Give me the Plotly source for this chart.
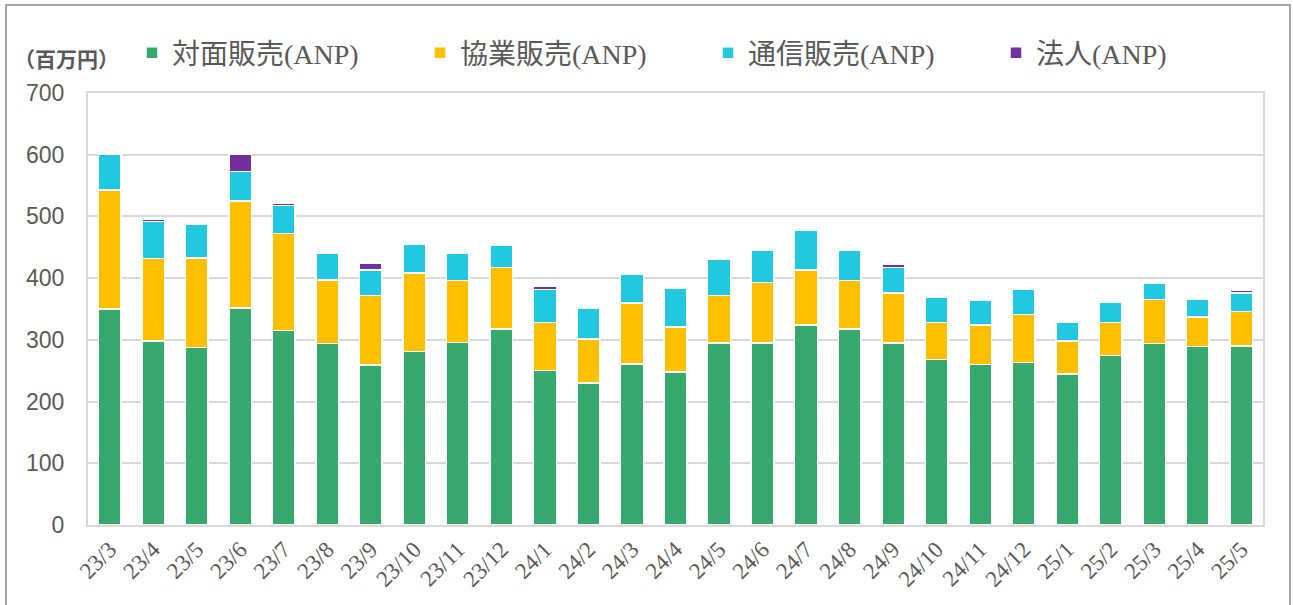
import plotly.graph_objects as go

months = ["23/3","23/4","23/5","23/6","23/7","23/8","23/9","23/10","23/11","23/12",
          "24/1","24/2","24/3","24/4","24/5","24/6","24/7","24/8","24/9","24/10",
          "24/11","24/12","25/1","25/2","25/3","25/4","25/5"]
face_to_face = [350,298,288,352,315,294,259,281,296,318,250,230,261,248,295,295,324,318,295,268,260,263,245,275,294,289,290]
agency = [193,134,145,173,157,103,113,127,100,99,78,71,99,73,77,98,89,78,81,60,64,78,53,53,71,48,56]
direct = [58,60,55,48,46,44,41,47,44,37,54,50,46,63,59,53,64,49,41,41,40,41,30,33,26,29,30]
corporate = [0,4,0,27,4,1,11,0,0,0,5,0,0,0,0,1,0,0,5,0,0,0,0,0,0,0,5]

series_names = ["対面販売(ANP)", "協業販売(ANP)", "通信販売(ANP)", "法人(ANP)"]
series_values = [face_to_face, agency, direct, corporate]
colors = ["#38A96E", "#FFC000", "#22C8E0", "#7030A0"]

fig = go.Figure()
for name, vals, col in zip(series_names, series_values, colors):
    fig.add_trace(go.Bar(
        x=months, y=vals, name=name,
        marker=dict(color=col, line=dict(color="white", width=1.5)),
    ))

# page body margin is removed in post_script, so screen px == figure px
W, H = 1293, 605
plot_l, plot_r, plot_t, plot_b = 88, 1263, 93, 525
ml = plot_l
mt = plot_t
mr = W - plot_r
mb = H - plot_b
pw = plot_r - plot_l
ph = plot_b - plot_t

def px_x(p):
    return (p - plot_l) / pw

def px_y(p):
    return (plot_b - p) / ph

fig.update_layout(
    width=W, height=H,
    margin=dict(l=ml, r=mr, t=mt, b=mb, autoexpand=False),
    barmode="stack",
    bargap=0.48,
    paper_bgcolor="white",
    plot_bgcolor="white",
    showlegend=True,
    legend=dict(
        orientation="h",
        x=px_x(132), y=px_y(53), xanchor="left", yanchor="middle",
        traceorder="normal",
        entrywidth=243, entrywidthmode="pixels",
        font=dict(family="Liberation Serif, Noto Sans CJK JP", size=28, color="#595959"),
        bgcolor="rgba(0,0,0,0)",
    ),
    xaxis=dict(
        tickangle=-45,
        tickfont=dict(family="Liberation Serif", size=23, color="#595959"),
        showline=True, linecolor="#d9d9d9", linewidth=2, mirror=True,
        showgrid=False,
    ),
    yaxis=dict(
        range=[0, 700], dtick=100,
        tickfont=dict(family="Liberation Sans", size=23, color="#595959"),
        showgrid=True, gridcolor="#d9d9d9", gridwidth=2,
        showline=True, linecolor="#d9d9d9", linewidth=2, mirror=True,
        zeroline=False,
        ticklabelstandoff=17,
    ),
    annotations=[dict(
        text="（百万円）", xref="paper", yref="paper",
        x=px_x(66), y=px_y(58), xanchor="center", yanchor="middle",
        showarrow=False,
        font=dict(family="Noto Sans CJK JP", size=21, color="#595959", weight="bold"),
    )],
    shapes=[dict(
        type="rect", xref="paper", yref="paper",
        x0=px_x(6), x1=px_x(1290), y0=px_y(640), y1=px_y(5),
        line=dict(color="#a6a6a6", width=2), fillcolor="rgba(0,0,0,0)",
        layer="below",
    )],
)

fig.write_html(
    "out.html",
    config={"displayModeBar": False},
    post_script="document.body.style.margin='0';document.body.style.overflow='hidden';",
)
